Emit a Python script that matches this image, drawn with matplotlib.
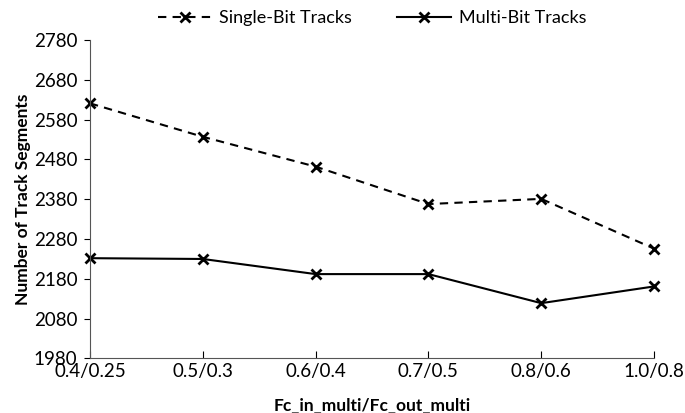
import matplotlib
matplotlib.use('Agg')
import matplotlib.pyplot as plt

ratios = ["0.4/0.25", "0.5/0.3", "0.6/0.4", "0.7/0.5", "0.8/0.6", "1.0/0.8"]
single_bit = [2621, 2537, 2462, 2368, 2381, 2256]
multi_bit = [2232, 2230, 2192, 2192, 2119, 2161]

plt.rcParams['font.family'] = ['Lato', 'DejaVu Sans']

fig = plt.figure(figsize=(6.85, 4.13), dpi=100)
ax = fig.add_axes([0.1314, 0.132, 0.8234, 0.771])

x = range(len(ratios))
ax.plot(x, single_bit, color='black', linestyle='--', dashes=(4, 3), linewidth=1.5,
        marker='x', markersize=7, markeredgewidth=2, label='Single-Bit Tracks', clip_on=False)
ax.plot(x, multi_bit, color='black', linestyle='-', linewidth=1.5,
        marker='x', markersize=7, markeredgewidth=2, label='Multi-Bit Tracks', clip_on=False)

ax.set_xlim(0, len(ratios) - 1)
ax.set_ylim(1980, 2780)
ax.set_yticks(range(1980, 2781, 100))
ax.set_xticks(list(x))
ax.set_xticklabels(ratios)
ax.tick_params(axis='x', direction='in', length=5, labelsize=13.5, pad=3)
ax.tick_params(axis='y', direction='out', length=4, labelsize=13.5, pad=5)
for s in ['top', 'right']:
    ax.spines[s].set_visible(False)
ax.spines['left'].set_color('#555555')
ax.spines['bottom'].set_color('#555555')

ax.set_xlabel("Fc_in_multi/Fc_out_multi", fontsize=12.5, fontweight='bold', labelpad=13)
ax.set_ylabel("Number of Track Segments", fontsize=12.5, fontweight='bold', labelpad=2)

ax.legend(loc='upper center', bbox_to_anchor=(0.5, 1.145), ncol=2, frameon=False,
          fontsize=13, handlelength=3, columnspacing=2.5, handletextpad=0.4)

fig.savefig('out.png', dpi=100)
